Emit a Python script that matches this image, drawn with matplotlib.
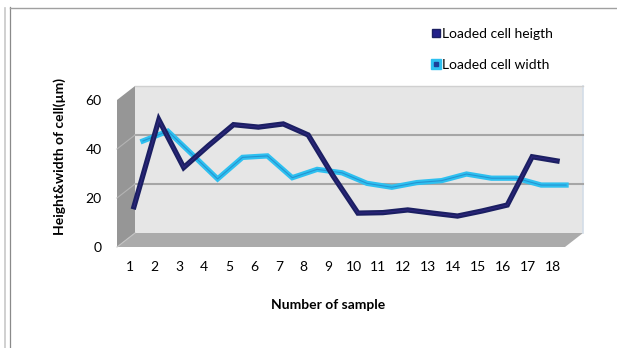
import matplotlib
matplotlib.use("Agg")
import matplotlib.pyplot as plt
from matplotlib.lines import Line2D
from matplotlib.patches import Polygon
from matplotlib.transforms import offset_copy

# ---- data -------------------------------------------------------------
samples = list(range(1, 19))
cell_height = [15, 50.5, 31, 40, 48.5, 47.5, 48.8, 44.3, 27.6, 12.4,
               12.6, 13.7, 12.4, 11.2, 13.3, 15.7, 35.4, 33.7]
cell_width = [39, 43, 33.3, 23.5, 32.3, 32.9, 24, 27.4, 26, 21.7,
              20.1, 22, 22.8, 25.5, 23.8, 23.8, 21, 21]
y_ticks = [0, 20, 40, 60]
series_names = ["Loaded cell heigth", "Loaded cell width"]

# ---- figure geometry (pixels) ----------------------------------------
W, H, DPI = 617, 348, 100
FONT = "Lato"
FS = 10
plt.rcParams["font.family"] = [FONT, "DejaVu Sans"]

fig = plt.figure(figsize=(W / DPI, H / DPI), dpi=DPI)


def px_box(left, top, right, bottom):
    return [left / W, 1 - bottom / H, (right - left) / W, (bottom - top) / H]


# front plane of the 3-D box
FL, FR, FT, FB = 117, 565, 100, 247
ax = fig.add_axes(px_box(FL, FT, FR, FB))
x0, x1 = 0.5, 18.5
ymax = 60
ax.set_xlim(x0, x1)
ax.set_ylim(0, ymax)
ax.patch.set_visible(False)
for s in ax.spines.values():
    s.set_visible(False)

# depth of the box in pixels (to the right and upwards)
DEPTH_X, DEPTH_Y = 18, 14
ux = (FR - FL) / (x1 - x0)       # px per category
uy = (FB - FT) / ymax            # px per value unit
ddx, ddy = DEPTH_X / ux, DEPTH_Y / uy

back = offset_copy(ax.transData, fig, x=DEPTH_X, y=DEPTH_Y, units="dots")

# back wall
ax.add_patch(Polygon([(x0, 0), (x1, 0), (x1, ymax), (x0, ymax)],
                     closed=True, facecolor="#e6e6e6", edgecolor="none",
                     transform=back, clip_on=False, zorder=1))
ax.plot([x1, x1], [0, ymax], color="#d3dde8", lw=1.2, transform=back,
        clip_on=False, zorder=1.2)
ax.plot([x0, x1], [ymax, ymax], color="#d0d0d0", lw=1.0, transform=back,
        clip_on=False, zorder=1.2)

# side wall
ax.add_patch(Polygon([(x0, 0), (x0, ymax), (x0 + ddx, ymax + ddy), (x0 + ddx, ddy)],
                     closed=True, facecolor="#969696", edgecolor="none",
                     clip_on=False, zorder=1))
# floor
ax.add_patch(Polygon([(x0, 0), (x1, 0), (x1 + ddx, ddy), (x0 + ddx, ddy)],
                     closed=True, facecolor="#ababab", edgecolor="none",
                     clip_on=False, zorder=1))

# gridlines on back wall and side wall
for v in y_ticks[1:-1]:
    ax.plot([x0, x1], [v, v], color="#a6a6a6", lw=1.5, transform=back,
            clip_on=False, zorder=1.5)
    ax.plot([x0, x0 + ddx], [v, v + ddy], color="#b4b4b4", lw=0.8,
            clip_on=False, zorder=1.5)
ax.plot([x0, x0 + ddx], [0, ddy], color="#c4c4c4", lw=0.8,
        clip_on=False, zorder=1.5)

# series ribbons, each at its own depth
width_tr = offset_copy(ax.transData, fig, x=DEPTH_X * 0.75, y=DEPTH_Y * 0.75, units="dots")
height_tr = offset_copy(ax.transData, fig, x=DEPTH_X * 0.25, y=DEPTH_Y * 0.25, units="dots")

ax.plot(samples, cell_width, color="#2ec0f0", lw=3.8, transform=width_tr,
        solid_joinstyle="miter", clip_on=False, zorder=3)
ax.plot(samples, cell_width, color="#1f6fb8", lw=0.8, alpha=0.55,
        transform=width_tr, clip_on=False, zorder=3.1)

ax.plot(samples, cell_height, color="#1b1f62", lw=3.8, transform=height_tr,
        solid_joinstyle="miter", clip_on=False, zorder=4)
ax.plot(samples, cell_height, color="#3a2a92", lw=0.8, alpha=0.6,
        transform=height_tr, clip_on=False, zorder=4.1)

# ticks
ax.set_xticks(samples)
ax.set_xticklabels([str(s) for s in samples])
ax.set_yticks(y_ticks)
ax.set_yticklabels([str(v) for v in y_ticks])
ax.tick_params(axis="both", length=0, labelsize=FS, colors="#000000")
ax.tick_params(axis="x", pad=10)
ax.tick_params(axis="y", pad=11)

# axis titles
fig.text(60 / W, 1 - 157 / H, "Height&width of cell(\u00b5m)", rotation=90,
         ha="center", va="center", fontsize=FS, fontweight="bold")
fig.text(328 / W, 1 - 305 / H, "Number of sample", ha="center", va="center",
         fontsize=FS, fontweight="bold")

# legend
h_height = Line2D([], [], marker="s", linestyle="none", markersize=6,
                  markerfacecolor="#22208a", markeredgecolor="#1b1f62")
h_width_bg = Line2D([], [], marker="s", linestyle="none", markersize=7,
                    markerfacecolor="#2ec0f0", markeredgecolor="#2ec0f0")
h_width_fg = Line2D([], [], marker="s", linestyle="none", markersize=3,
                    markerfacecolor="#1b3f9a", markeredgecolor="#1b3f9a")
fig.legend([h_height, (h_width_bg, h_width_fg)], series_names,
           loc="upper left", bbox_to_anchor=(432 / W, 1 - 28 / H),
           frameon=False, fontsize=FS, handlelength=0.6, handletextpad=0.15,
           labelspacing=1.35, borderpad=0, borderaxespad=0)

# outer frame lines
fig.add_artist(Line2D([4.5 / W, 4.5 / W], [1 - 8 / H, 0], color="#c8c8c8", lw=1.2))
fig.add_artist(Line2D([10.5 / W, 10.5 / W], [1 - 7 / H, 0], color="#8a8a8a", lw=0.9))
fig.add_artist(Line2D([10.5 / W, 1], [1 - 7.5 / H, 1 - 7.5 / H], color="#a0a0a0", lw=1.0))

fig.savefig("out.png", dpi=DPI)
